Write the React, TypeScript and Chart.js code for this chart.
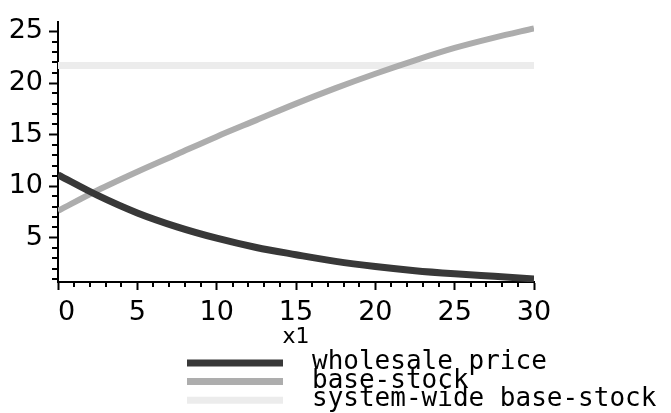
import React, { useEffect, useRef } from "react";
import { Chart, registerables } from "chart.js";

Chart.register(...registerables);

// x1 sample positions
const xValues = [0, 2.5, 5, 7.5, 10, 12.5, 15, 17.5, 20, 22.5, 25, 27.5, 30];
// wholesale price
const wholesalePrice = [11.1, 9.1, 7.4, 6.05, 4.95, 4.05, 3.35, 2.7, 2.2, 1.8, 1.5, 1.25, 1.0];
// base-stock
const baseStock = [7.6, 9.6, 11.4, 13.1, 14.8, 16.4, 18.0, 19.5, 20.9, 22.2, 23.4, 24.4, 25.3];
// system-wide base-stock (constant)
const systemX = [0, 30];
const systemWide = [21.7, 21.7];

const seriesLabels = ["wholesale price", "base-stock", "system-wide base-stock"];
const seriesColors = ["#383838", "#adadad", "#ececec"];
const xTitle = "x1";

const TICK_FONT = "'DejaVu Sans', sans-serif";
const LEGEND_FONT = "'DejaVu Sans Mono', monospace";

const minorTicks = {
  id: "minorTicks",
  afterDraw(chart: any) {
    const ctx = chart.ctx;
    const xs = chart.scales.x;
    const ys = chart.scales.y;
    const area = chart.chartArea;
    ctx.save();
    ctx.strokeStyle = "#000";
    ctx.lineWidth = 2;
    ctx.beginPath();
    for (let v = Math.ceil(xs.min); v <= xs.max; v++) {
      if (v % 5 === 0) continue;
      const px = Math.round(xs.getPixelForValue(v));
      ctx.moveTo(px, area.bottom);
      ctx.lineTo(px, area.bottom + 5);
    }
    for (let v = Math.ceil(ys.min); v <= ys.max; v++) {
      if (v % 5 === 0) continue;
      const py = Math.round(ys.getPixelForValue(v));
      ctx.moveTo(area.left, py);
      ctx.lineTo(area.left - 6, py);
    }
    ctx.stroke();
    ctx.restore();
  },
};

const customLegend = {
  id: "customLegend",
  afterDraw(chart: any) {
    const ctx = chart.ctx;
    const area = chart.chartArea;
    const lineX0 = area.left + 129;
    const lineX1 = lineX0 + 96;
    const textX = lineX0 + 125;
    const rowY0 = area.bottom + 81;
    const rowGap = 18.6;
    ctx.save();
    chart.data.datasets.forEach((ds: any, i: number) => {
      const y = rowY0 + i * rowGap;
      ctx.strokeStyle = ds.borderColor;
      ctx.lineWidth = 7;
      ctx.lineCap = "butt";
      ctx.beginPath();
      ctx.moveTo(lineX0, y);
      ctx.lineTo(lineX1, y);
      ctx.stroke();
      ctx.fillStyle = "#000";
      ctx.font = `26px ${LEGEND_FONT}`;
      ctx.textBaseline = "alphabetic";
      ctx.textAlign = "left";
      ctx.fillText(ds.label, textX, y + 6);
    });
    ctx.restore();
  },
};

export default function App() {
  const ref = useRef<HTMLCanvasElement | null>(null);

  useEffect(() => {
    if (!ref.current) return;
    const chart = new Chart(ref.current, {
      type: "line",
      data: {
        datasets: [
          {
            label: seriesLabels[0],
            data: xValues.map((x, i) => ({ x, y: wholesalePrice[i] })),
            borderColor: seriesColors[0],
            borderWidth: 7,
            pointRadius: 0,
            cubicInterpolationMode: "monotone",
            borderCapStyle: "butt",
          },
          {
            label: seriesLabels[1],
            data: xValues.map((x, i) => ({ x, y: baseStock[i] })),
            borderColor: seriesColors[1],
            borderWidth: 6,
            pointRadius: 0,
            cubicInterpolationMode: "monotone",
            borderCapStyle: "butt",
          },
          {
            label: seriesLabels[2],
            data: systemX.map((x, i) => ({ x, y: systemWide[i] })),
            borderColor: seriesColors[2],
            borderWidth: 7,
            pointRadius: 0,
            borderCapStyle: "butt",
          },
        ],
      },
      options: {
        animation: false,
        responsive: false,
        devicePixelRatio: 1,
        layout: { padding: { left: 0, right: 137, top: 12, bottom: 63 } },
        plugins: { legend: { display: false }, tooltip: { enabled: false } },
        scales: {
          x: {
            type: "linear",
            min: 0,
            max: 30,
            afterFit: (s: any) => {
              s.height = 68;
            },
            border: { color: "#000", width: 2 },
            grid: { drawOnChartArea: false, tickLength: 8, tickWidth: 2, tickColor: "#000" },
            ticks: {
              stepSize: 5,
              color: "#000",
              padding: 7,
              maxRotation: 0,
              font: { family: TICK_FONT, size: 27 },
              callback: (v: any) => (Number(v) === 0 ? "  0" : String(v)),
            },
            title: {
              display: true,
              text: xTitle,
              color: "#000",
              padding: 0,
              font: { family: TICK_FONT, size: 22 },
            },
          },
          y: {
            type: "linear",
            min: 0.7,
            max: 25.9,
            afterFit: (s: any) => {
              s.width = 58;
            },
            border: { color: "#000", width: 2 },
            grid: { drawOnChartArea: false, tickLength: 9, tickWidth: 2, tickColor: "#000" },
            ticks: {
              stepSize: 5,
              includeBounds: false,
              color: "#000",
              padding: 6,
              font: { family: TICK_FONT, size: 27 },
            },
          },
        },
      },
      plugins: [minorTicks, customLegend],
    } as any);
    return () => chart.destroy();
  }, []);

  return (
    <div style={{ position: "absolute", left: 0, top: 0, width: 671, height: 413, background: "#fff" }}>
      <canvas ref={ref} width={671} height={413} style={{ display: "block" }} />
    </div>
  );
}
